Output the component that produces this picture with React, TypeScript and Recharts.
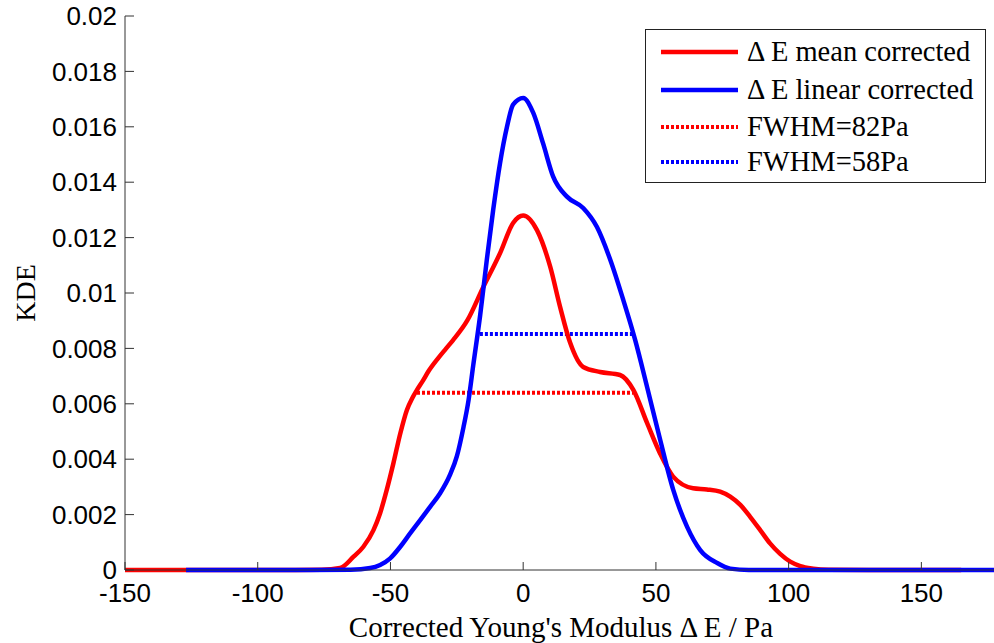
import React from 'react';
import { LineChart, Line, XAxis, YAxis, Legend } from 'recharts';

// ---- data ----
const meanX = [-150, -127, -90, -76, -69, -63.9, -60.2, -56.4, -53.9, -51.4, -48.9, -46.3, -43.8, -41.8, -40, -38, -35.5, -32, -29, -26.4, -21.1, -15.1, -8.7, -3.8, 0, 5.2, 10.2, 13.9, 17.7, 22.6, 29, 36.5, 41.5, 46.7, 51.6, 56.5, 64, 69.2, 74.2, 78, 81.8, 85.5, 89.3, 93, 96.8, 100.6, 104.4, 109.3, 115, 130, 165];
const meanY = [0, 0, 0, 0.00001, 0.00007, 0.00048, 0.00084, 0.00144, 0.00205, 0.00289, 0.00385, 0.00493, 0.00578, 0.0062, 0.0065, 0.0068, 0.0072, 0.00765, 0.008, 0.0083, 0.009, 0.0102, 0.01144, 0.01253, 0.0128, 0.01227, 0.01094, 0.0095, 0.0082, 0.00733, 0.00715, 0.00704, 0.0065, 0.0053, 0.0042, 0.00337, 0.00295, 0.00291, 0.00283, 0.00265, 0.00235, 0.00192, 0.00144, 0.00096, 0.00058, 0.0003, 0.00014, 0.00005, 0.00001, 0, 0];

const linX = [-127, -80, -65, -57.6, -53.9, -50.1, -46.3, -42.6, -38.8, -35, -31.3, -27.5, -25, -22.5, -20.6, -18.8, -16.2, -13.7, -11.3, -8.7, -6.1, -3.8, 0, 3.8, 7.5, 11.3, 16.6, 22.6, 27.8, 32.8, 37.7, 42.2, 46.7, 51.6, 56.5, 61.8, 66.7, 73.1, 78, 85, 180];
const linY = [0, 0, 0.00001, 0.00007, 0.00018, 0.00042, 0.00084, 0.00132, 0.0018, 0.00229, 0.00277, 0.00345, 0.0041, 0.00515, 0.00612, 0.0074, 0.0092, 0.0112, 0.013, 0.0147, 0.016, 0.0168, 0.01704, 0.0165, 0.0154, 0.0142, 0.01347, 0.01307, 0.01238, 0.0112, 0.00975, 0.0083, 0.0066, 0.0047, 0.0029, 0.00155, 0.00072, 0.00025, 0.00005, 0, 0];

const fwhmMeanX = [-40, 41.5];
const fwhmMeanY = [0.0064, 0.0064];
const fwhmLinX = [-16.3, 41.2];
const fwhmLinY = [0.00852, 0.00852];

const xTicks = [-150, -100, -50, 0, 50, 100, 150];
const yTicks = [0, 0.002, 0.004, 0.006, 0.008, 0.01, 0.012, 0.014, 0.016, 0.018, 0.02];

const legendLabels = ['\u0394 E mean corrected', '\u0394 E linear corrected', 'FWHM=82Pa', 'FWHM=58Pa'];
const legendColors = ['#ff0000', '#0000ff', '#ff0000', '#0000ff'];
const legendDashed = [false, false, true, true];

const xLabel = "Corrected Young's Modulus \u0394 E / Pa";
const yLabel = 'KDE';

const zip = (xs: number[], ys: number[]) => xs.map((x, i) => ({ x, y: ys[i] }));
const meanData = zip(meanX, meanY);
const linData = zip(linX, linY);
const fwhmMeanData = zip(fwhmMeanX, fwhmMeanY);
const fwhmLinData = zip(fwhmLinX, fwhmLinY);

const SANS = '"Liberation Sans", Arial, sans-serif';
const SERIF = '"Liberation Serif", "Times New Roman", serif';
const AXIS = '#333';

const fmtY = (v: number) => String(Number(v.toFixed(3)));

const LegendBox = () => (
  <div
    style={{
      width: 341,
      height: 154,
      border: '1px solid #222',
      background: '#fff',
      boxSizing: 'border-box',
      position: 'relative',
      fontFamily: SERIF,
      fontSize: 28.5,
      color: '#000',
    }}
  >
    {legendLabels.map((name, i) => (
      <div
        key={name}
        style={{
          position: 'absolute',
          left: 0,
          top: [22, 60, 97, 132][i] - 18,
          height: 36,
          display: 'flex',
          alignItems: 'center',
          whiteSpace: 'nowrap',
        }}
      >
        <svg width={77} height={8} style={{ marginLeft: 15, display: 'block' }}>
          <line
            x1={0}
            x2={77}
            y1={4}
            y2={4}
            stroke={legendColors[i]}
            strokeWidth={legendDashed[i] ? 4 : 4.5}
            strokeDasharray={legendDashed[i] ? '3 2' : undefined}
          />
        </svg>
        <span style={{ marginLeft: 9, lineHeight: 1 }}>{name}</span>
      </div>
    ))}
  </div>
);

export default function App() {
  return (
    <div style={{ position: 'absolute', left: 0, top: 0, width: 994, height: 643, overflow: 'hidden', background: '#fff' }}>
      <LineChart width={1010} height={643} margin={{ top: 16, right: 9, left: 0, bottom: 0 }}>
        <XAxis
          xAxisId="b"
          dataKey="x"
          type="number"
          domain={[-150, 180]}
          ticks={xTicks}
          height={73}
          stroke={AXIS}
          tickSize={-8}
          tickMargin={22}
          tick={{ fontSize: 26, fontFamily: SANS, fill: '#000' }}
          label={{
            content: (p: any) => {
              const vb = p.viewBox || {};
              return (
                <text
                  x={vb.x + vb.width / 2 - 2}
                  y={637}
                  textAnchor="middle"
                  fontFamily={SERIF}
                  fontSize={29}
                  fill="#000"
                >
                  {xLabel}
                </text>
              );
            },
          }}
        />
        <XAxis
          xAxisId="t"
          dataKey="x"
          type="number"
          orientation="top"
          domain={[-150, 180]}
          ticks={xTicks}
          height={0}
          stroke={AXIS}
          tickSize={-8}
          tick={false}
        />
        <YAxis
          yAxisId="l"
          type="number"
          domain={[0, 0.02]}
          ticks={yTicks}
          width={125}
          stroke={AXIS}
          tickSize={-9}
          tickMargin={17}
          tickFormatter={fmtY}
          tick={{ fontSize: 26, fontFamily: SANS, fill: '#000' }}
          label={{
            content: (p: any) => {
              const vb = p.viewBox || {};
              const cy = vb.y + vb.height / 2;
              return (
                <text
                  x={35}
                  y={cy}
                  textAnchor="middle"
                  transform={`rotate(-90, 35, ${cy})`}
                  fontFamily={SERIF}
                  fontSize={28}
                  fill="#000"
                >
                  {yLabel}
                </text>
              );
            },
          }}
        />
        <YAxis
          yAxisId="r"
          orientation="right"
          type="number"
          domain={[0, 0.02]}
          ticks={yTicks}
          width={0}
          stroke={AXIS}
          tickSize={-9}
          tick={false}
        />
        <Legend
          layout="vertical"
          align="center"
          verticalAlign="middle"
          wrapperStyle={{ top: 29, left: 645, width: 341, height: 154 }}
          content={() => <LegendBox />}
        />
        <Line
          xAxisId="b"
          yAxisId="l"
          data={fwhmMeanData}
          dataKey="y"
          name="FWHM=82Pa"
          type="linear"
          stroke="#ff0000"
          strokeWidth={4}
          strokeDasharray="3 2"
          dot={false}
          activeDot={false}
          isAnimationActive={false}
        />
        <Line
          xAxisId="b"
          yAxisId="l"
          data={fwhmLinData}
          dataKey="y"
          name="FWHM=58Pa"
          type="linear"
          stroke="#0000ff"
          strokeWidth={4}
          strokeDasharray="3 2"
          dot={false}
          activeDot={false}
          isAnimationActive={false}
        />
        <Line
          xAxisId="b"
          yAxisId="l"
          data={meanData}
          dataKey="y"
          name="mean"
          type="monotone"
          stroke="#ff0000"
          strokeWidth={4.5}
          dot={false}
          activeDot={false}
          isAnimationActive={false}
        />
        <Line
          xAxisId="b"
          yAxisId="l"
          data={linData}
          dataKey="y"
          name="linear"
          type="monotone"
          stroke="#0000ff"
          strokeWidth={4.5}
          dot={false}
          activeDot={false}
          isAnimationActive={false}
        />
      </LineChart>
    </div>
  );
}
